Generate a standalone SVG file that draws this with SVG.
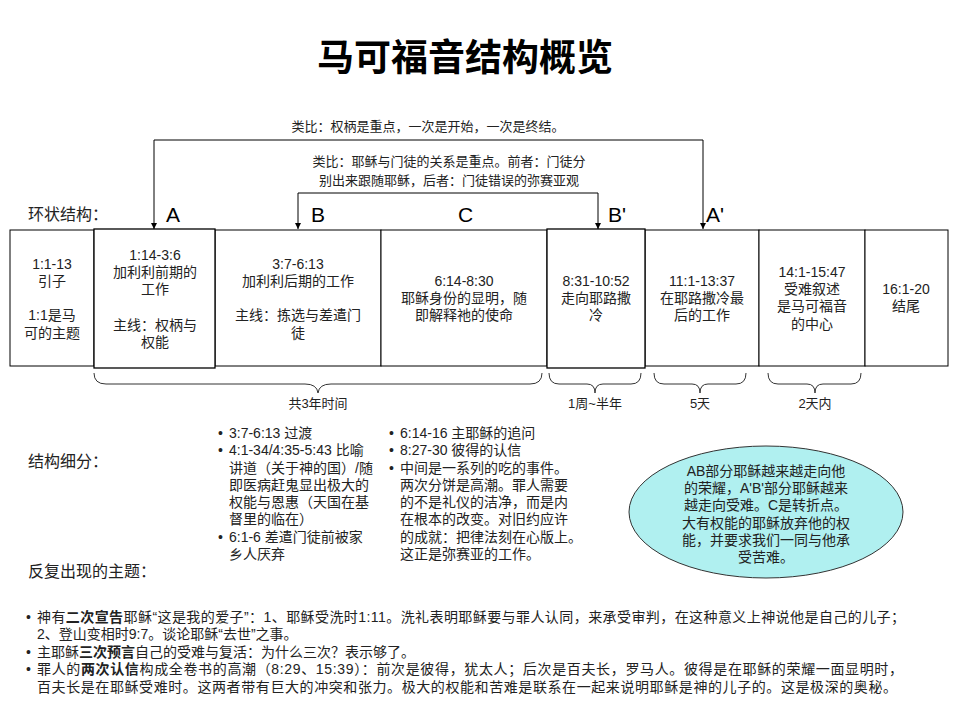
<svg xmlns="http://www.w3.org/2000/svg" width="960" height="720" viewBox="0 0 960 720">
<defs>
<marker id="arr" viewBox="0 0 10 10" refX="10" refY="5" markerWidth="6" markerHeight="6" markerUnits="userSpaceOnUse" orient="auto"><path d="M0,0 L10,5 L0,10 z" fill="#000"/></marker>
<style>
text{font-family:"Liberation Sans","Noto Sans CJK SC",sans-serif;fill:#222}
.t{font-size:14px}
.c{text-anchor:middle}
.s{font-size:13px}
.h{font-size:16px}
.L{font-size:21px;fill:#000}
.box{fill:#fff;stroke:#000;stroke-width:1}
.bx2{fill:#fff;stroke:#000;stroke-width:1.3}
.ln{fill:none;stroke:#000;stroke-width:1}
.br{fill:none;stroke:#333;stroke-width:1}
.b{font-weight:bold}
</style>
</defs>
<rect width="960" height="720" fill="#fff"/>
<text x="465" y="71" class="c" style="font-size:37px;font-weight:bold;fill:#000;font-family:'Noto Sans CJK SC',sans-serif">马可福音结构概览</text>

<g id="connectors">
<text x="428" y="131" class="c s">类比：权柄是重点，一次是开始，一次是终结。</text>
<path class="ln" d="M154,140 H703" />
<path class="ln" d="M154,140 V229" marker-end="url(#arr)"/>
<path class="ln" d="M703,140 V229" marker-end="url(#arr)"/>
<text x="449" y="166" class="c s">类比：耶稣与门徒的关系是重点。前者：门徒分</text>
<text x="449" y="185" class="c s">别出来跟随耶稣，后者：门徒错误的弥赛亚观</text>
<path class="ln" d="M298,193 H598" />
<path class="ln" d="M298,193 V229" marker-end="url(#arr)"/>
<path class="ln" d="M598,193 V229" marker-end="url(#arr)"/>
</g>

<text x="28" y="220" class="h">环状结构：</text>
<text x="166" y="222" class="L">A</text>
<text x="311" y="222" class="L">B</text>
<text x="458" y="222" class="L">C</text>
<text x="608" y="222" class="L">B'</text>
<text x="706" y="222" class="L">A'</text>

<g id="n1"><rect class="box" x="10" y="230" width="84" height="136"/>
<text class="t c" x="52" y="269">1:1-13</text><text class="t c" x="52" y="286">引子</text>
<text class="t c" x="52" y="320">1:1是马</text><text class="t c" x="52" y="338">可的主题</text></g>
<g id="n3"><rect class="box" x="215" y="230" width="166" height="136"/>
<text class="t c" x="298" y="269">3:7-6:13</text><text class="t c" x="298" y="286">加利利后期的工作</text>
<text class="t c" x="298" y="320">主线：拣选与差遣门</text><text class="t c" x="298" y="338">徒</text></g>
<g id="n4"><rect class="box" x="381" y="230" width="166" height="136"/>
<text class="t c" x="464" y="286">6:14-8:30</text><text class="t c" x="464" y="303">耶稣身份的显明，随</text><text class="t c" x="464" y="320">即解释祂的使命</text></g>
<g id="n6"><rect class="box" x="645" y="230" width="114" height="136"/>
<text class="t c" x="702" y="286">11:1-13:37</text><text class="t c" x="702" y="303">在耶路撒冷最</text><text class="t c" x="702" y="320">后的工作</text></g>
<g id="n7"><rect class="box" x="759" y="230" width="106" height="136"/>
<text class="t c" x="812" y="277">14:1-15:47</text><text class="t c" x="812" y="294">受难叙述</text><text class="t c" x="812" y="311">是马可福音</text><text class="t c" x="812" y="329">的中心</text></g>
<g id="n8"><rect class="box" x="865" y="230" width="83" height="136"/>
<text class="t c" x="906" y="294">16:1-20</text><text class="t c" x="906" y="311">结尾</text></g>
<g id="n2"><rect class="bx2" x="94" y="229" width="121" height="139"/>
<text class="t c" x="155" y="260">1:14-3:6</text><text class="t c" x="155" y="277">加利利前期的</text><text class="t c" x="155" y="294">工作</text>
<text class="t c" x="155" y="330">主线：权柄与</text><text class="t c" x="155" y="347">权能</text></g>
<g id="n5"><rect class="bx2" x="547" y="229" width="98" height="139"/>
<text class="t c" x="596" y="286">8:31-10:52</text><text class="t c" x="596" y="303">走向耶路撒</text><text class="t c" x="596" y="320">冷</text></g>

<g id="braces">
<path class="br" d="M94,373 Q94,384 106,384 H305 Q317,384 318,393 Q319,384 331,384 H530 Q542,384 542,373"/>
<path class="br" d="M549,373 Q549,384 559,384 H587 Q595,384 595,393 Q595,384 603,384 H631 Q641,384 641,373"/>
<path class="br" d="M654,373 Q654,384 664,384 H692 Q700,384 700,393 Q700,384 708,384 H736 Q746,384 746,373"/>
<path class="br" d="M768,373 Q768,384 778,384 H807 Q815,384 815,393 Q815,384 823,384 H851 Q861,384 861,373"/>
</g>
<text class="s c" x="318" y="408">共3年时间</text>
<text class="s c" x="595" y="408">1周~半年</text>
<text class="s c" x="700" y="408">5天</text>
<text class="s c" x="815" y="408">2天内</text>

<text x="28" y="467" class="h">结构细分：</text>
<text x="28" y="577" class="h">反复出现的主题：</text>

<g id="list1" class="t">
<text x="218" y="438">•</text><text x="229" y="438">3:7-6:13 过渡</text>
<text x="218" y="455">•</text><text x="229" y="455">4:1-34/4:35-5:43 比喻</text>
<text x="229" y="473">讲道（关于神的国）/随</text>
<text x="229" y="490">即医病赶鬼显出极大的</text>
<text x="229" y="507">权能与恩惠（天国在基</text>
<text x="229" y="524">督里的临在）</text>
<text x="218" y="542">•</text><text x="229" y="542">6:1-6 差遣门徒前被家</text>
<text x="229" y="559">乡人厌弃</text>
</g>
<g id="list2" class="t">
<text x="389" y="438">•</text><text x="400" y="438">6:14-16 主耶稣的追问</text>
<text x="389" y="455">•</text><text x="400" y="455">8:27-30 彼得的认信</text>
<text x="389" y="473">•</text><text x="400" y="473">中间是一系列的吃的事件。</text>
<text x="400" y="490">两次分饼是高潮。罪人需要</text>
<text x="400" y="507">的不是礼仪的洁净，而是内</text>
<text x="400" y="524">在根本的改变。对旧约应许</text>
<text x="400" y="542">的成就：把律法刻在心版上。</text>
<text x="400" y="559">这正是弥赛亚的工作。</text>
</g>

<g id="ellipse">
<ellipse cx="766" cy="512" rx="137" ry="66" fill="#b0f0f0" stroke="#333" stroke-width="1"/>
<text class="t c" x="766" y="476">AB部分耶稣越来越走向他</text>
<text class="t c" x="766" y="493">的荣耀，A'B'部分耶稣越来</text>
<text class="t c" x="766" y="510">越走向受难。C是转折点。</text>
<text class="t c" x="766" y="528">大有权能的耶稣放弃他的权</text>
<text class="t c" x="766" y="545">能，并要求我们一同与他承</text>
<text class="t c" x="766" y="562">受苦难。</text>
</g>

<g id="themes" class="t">
<text x="26" y="622">•</text>
<text x="37" y="622" textLength="868">神有<tspan class="b">二次宣告</tspan>耶稣“这是我的爱子”：1、耶稣受洗时1:11。洗礼表明耶稣要与罪人认同，来承受审判，在这种意义上神说他是自己的儿子；</text>
<text x="37" y="639">2、登山变相时9:7。谈论耶稣“去世”之事。</text>
<text x="26" y="657">•</text>
<text x="37" y="657">主耶稣<tspan class="b">三次预言</tspan>自己的受难与复活：为什么三次？表示够了。</text>
<text x="26" y="674">•</text>
<text x="37" y="674" textLength="866">罪人的<tspan class="b">两次认信</tspan>构成全卷书的高潮（8:29、15:39）：前次是彼得，犹太人；后次是百夫长，罗马人。彼得是在耶稣的荣耀一面显明时，</text>
<text x="37" y="692" textLength="860">百夫长是在耶稣受难时。这两者带有巨大的冲突和张力。极大的权能和苦难是联系在一起来说明耶稣是神的儿子的。这是极深的奥秘。</text>
</g>
</svg>
